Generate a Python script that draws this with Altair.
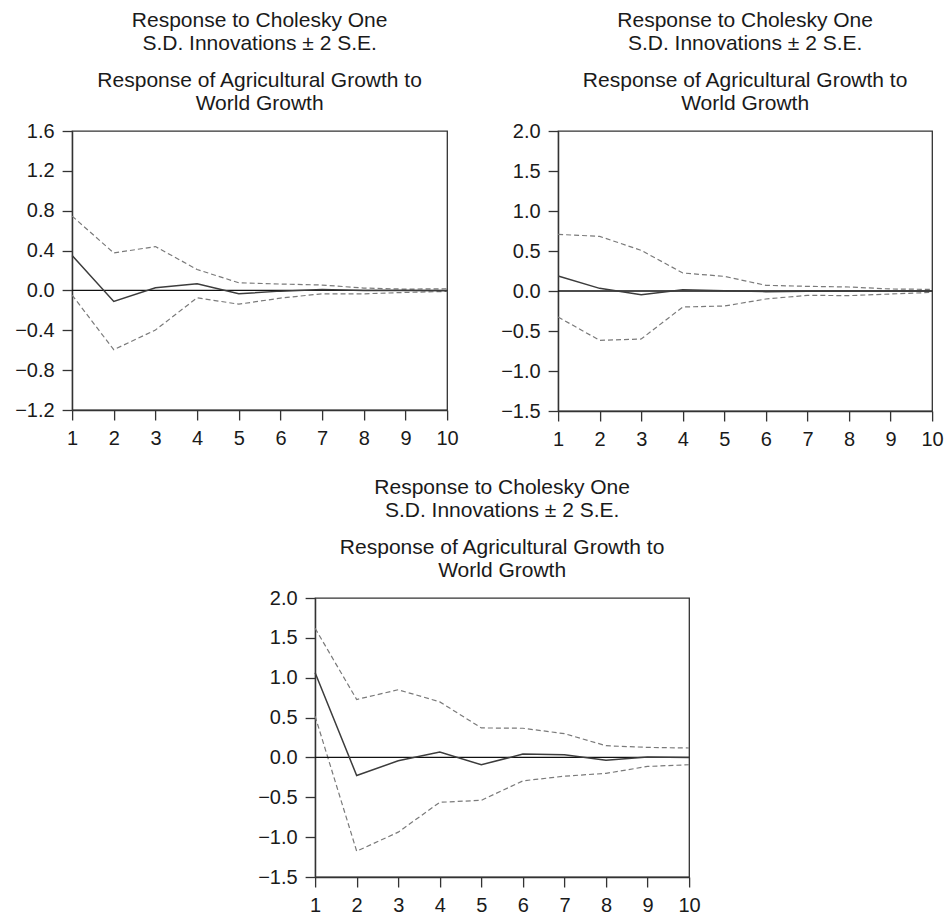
import altair as alt
import pandas as pd

steps = list(range(1, 11))

# Impulse responses (solid) with +/- 2 S.E. bands (dashed), three panels
a_resp = [0.35, -0.11, 0.027, 0.067, -0.034, -0.007, 0.01, 0.0, 0.0, -0.003]
a_upper = [0.746, 0.376, 0.44, 0.21, 0.077, 0.064, 0.054, 0.024, 0.013, 0.017]
a_lower = [-0.047, -0.595, -0.397, -0.074, -0.138, -0.077, -0.034, -0.034, -0.02, -0.01]

b_resp = [0.1875, 0.033, -0.046, 0.017, 0.004, -0.008, -0.004, 0.0, 0.0, 0.0]
b_upper = [0.708, 0.683, 0.508, 0.225, 0.183, 0.071, 0.058, 0.05, 0.025, 0.02]
b_lower = [-0.325, -0.617, -0.6, -0.2, -0.1875, -0.1, -0.054, -0.058, -0.0375, -0.017]

c_resp = [1.063, -0.227, -0.042, 0.067, -0.092, 0.042, 0.034, -0.034, 0.004, 0.0]
c_upper = [1.62, 0.727, 0.849, 0.697, 0.37, 0.366, 0.298, 0.147, 0.126, 0.118]
c_lower = [0.517, -1.176, -0.937, -0.563, -0.538, -0.294, -0.235, -0.2, -0.113, -0.092]

a_ticks = [-1.2, -0.8, -0.4, 0.0, 0.4, 0.8, 1.2, 1.6]
bc_ticks = [-1.5, -1.0, -0.5, 0.0, 0.5, 1.0, 1.5, 2.0]

title_lines = ["Response to Cholesky One", "S.D. Innovations \u00b1 2 S.E."]
subtitle_lines = ["Response of Agricultural Growth to", "World Growth"]

FONT = "Liberation Sans"


def panel(resp, upper, lower, ticks, w, h):
    df = pd.DataFrame({"step": steps, "resp": resp, "upper": upper, "lower": lower})
    base = alt.Chart(df)
    x = alt.X(
        "step:Q",
        scale=alt.Scale(domain=[1, 10], nice=False, zero=False),
        axis=alt.Axis(values=steps, format="d", title=None),
    )
    yscale = alt.Scale(domain=[ticks[0], ticks[-1]], nice=False, zero=False)
    yaxis = alt.Axis(values=ticks, format=".1f", title=None)

    def y(field):
        return alt.Y(f"{field}:Q", scale=yscale, axis=yaxis)

    zero = alt.Chart(pd.DataFrame({"zero": [0.0]})).mark_rule(
        color="#111111", strokeWidth=1.3
    ).encode(y=y("zero"))
    up = base.mark_line(color="#7a7a7a", strokeWidth=1.2, strokeDash=[5, 3]).encode(x=x, y=y("upper"))
    lo = base.mark_line(color="#7a7a7a", strokeWidth=1.2, strokeDash=[5, 3]).encode(x=x, y=y("lower"))
    mid = base.mark_line(color="#3c3c3c", strokeWidth=1.5).encode(x=x, y=y("resp"))

    return alt.layer(up, lo, zero, mid).properties(
        width=w,
        height=h,
        title=alt.TitleParams(
            text=title_lines,
            subtitle=subtitle_lines,
            font=FONT,
            subtitleFont=FONT,
            fontSize=21,
            subtitleFontSize=21,
            fontWeight="normal",
            lineHeight=23,
            subtitleLineHeight=23,
            subtitlePadding=16,
            color="#1a1a1a",
            subtitleColor="#1a1a1a",
            anchor="middle",
            frame="group",
            offset=7,
        ),
    )


p1 = panel(a_resp, a_upper, a_lower, a_ticks, 375, 279)
p2 = panel(b_resp, b_upper, b_lower, bc_ticks, 374, 280)
p3 = panel(c_resp, c_upper, c_lower, bc_ticks, 374, 279)

top_row = alt.hconcat(p1, p2, spacing=40)
chart = (
    alt.vconcat(top_row, p3, spacing=26, center=True)
    .properties(padding={"left": 13, "top": 9, "right": 0, "bottom": 0})
    .configure_axis(
        domainColor="#333333",
        domainWidth=1.3,
        tickColor="#333333",
        tickWidth=1.3,
        tickSize=10,
        labelFont=FONT,
        labelFontSize=20,
        labelColor="#1a1a1a",
        labelPadding=8,
        labelFlush=False,
        grid=False,
    )
    .configure_view(stroke="#333333", strokeWidth=1.3)
)

chart.save("out.html", embed_options={"renderer": "svg", "actions": False})
